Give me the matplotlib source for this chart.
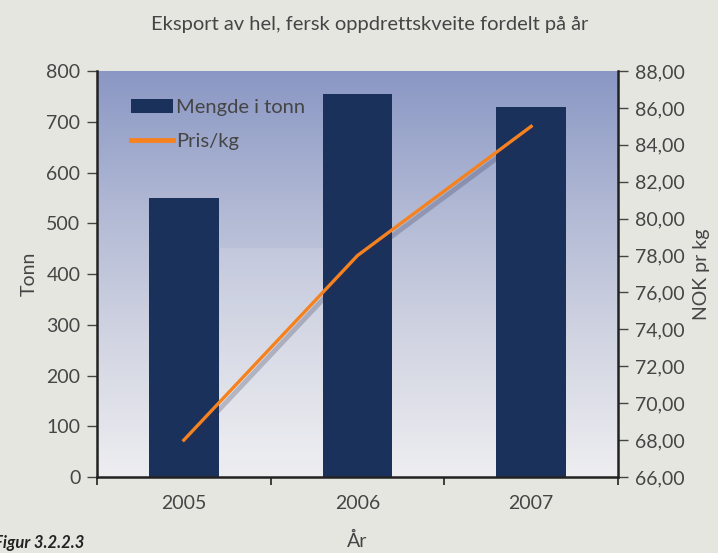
import numpy as np
import matplotlib
matplotlib.use("Agg")
from matplotlib import pyplot as plt
from matplotlib import patheffects as pe
from matplotlib.patches import Rectangle
from matplotlib.lines import Line2D
from matplotlib.colors import LinearSegmentedColormap

# --- data ---
years = ["2005", "2006", "2007"]
mengde = [550, 755, 730]        # tonn
pris = [68.0, 78.0, 85.0]       # NOK pr kg
ticks_left = [0, 100, 200, 300, 400, 500, 600, 700, 800]
ticks_right = [66, 68, 70, 72, 74, 76, 78, 80, 82, 84, 86, 88]

plt.rcParams['font.family'] = ['Lato', 'DejaVu Sans']
txt = '#454545'
bg = '#e6e6e1'
bar_col = '#1a315c'
line_col = '#f5821f'
fs = 14

fig = plt.figure(figsize=(7.18, 5.53), dpi=100, facecolor=bg)
ax = fig.add_axes([0.1351, 0.1374, 0.7256, 0.7342])
ax.set_facecolor('none')

# gradient background of the plot area
grad = LinearSegmentedColormap.from_list('g', ['#eeeef1', '#d2d5e2', '#b0b8d4', '#8a97c4'])
ax.imshow(np.linspace(0, 1, 256).reshape(-1, 1), cmap=grad, origin='lower',
          extent=[0, 1, 0, 1], transform=ax.transAxes, aspect='auto', zorder=0)
ax.add_patch(Rectangle((0.2354, 0.05), 0.198, 0.515, transform=ax.transAxes,
                       facecolor='white', alpha=0.12, edgecolor='white', lw=0.5, zorder=0.5))

x = np.arange(len(years))
bars = ax.bar(x, mengde, width=0.40, color=bar_col, zorder=2, label='Mengde i tonn')
ax.set_xlim(-0.5, 2.5)
ax.set_ylim(0, 800)
ax.set_yticks(ticks_left)
ax.set_xticks([-0.5, 0.5, 1.5, 2.5])
ax.set_xticklabels([])
ax.set_xticks(x, minor=True)
ax.set_xticklabels(years, minor=True)
ax.tick_params(axis='x', which='major', direction='out', length=6, width=1.2, color='#222')
ax.tick_params(axis='x', which='minor', length=0, pad=13, labelsize=fs, labelcolor=txt)
ax.tick_params(axis='y', direction='out', length=7, width=1, color='#444', labelsize=fs,
               labelcolor=txt, pad=5)
for s in ['left', 'bottom']:
    ax.spines[s].set_linewidth(1.8)
    ax.spines[s].set_color('#222')
ax.spines['top'].set_visible(False)
ax.spines['right'].set_visible(False)

ax2 = ax.twinx()
ax2.plot(x, pris, color=line_col, lw=2.4, zorder=3,
         path_effects=[pe.SimpleLineShadow(offset=(2, -3), shadow_color='#303050', alpha=0.25,
                                           linewidth=3.5),
                       pe.Normal()])
ax2.set_ylim(66, 88)
ax2.set_yticks(ticks_right)
ax2.set_yticklabels([f"{v:.2f}".replace('.', ',') for v in ticks_right])
ax2.tick_params(axis='y', direction='out', length=7, width=1, color='#444', labelsize=fs,
                labelcolor=txt, pad=5)
ax2.spines['right'].set_linewidth(1.8)
ax2.spines['right'].set_color('#222')
for s in ['left', 'bottom', 'top']:
    ax2.spines[s].set_visible(False)

ax.set_ylabel('Tonn', fontsize=fs, color=txt, labelpad=6)
ax2.set_ylabel('NOK pr kg', fontsize=fs, color=txt, labelpad=6)
ax.set_xlabel('År', fontsize=fs, color=txt, labelpad=14)

ln_handle = Line2D([], [], color=line_col, lw=3.5)
leg = ax2.legend([bars, ln_handle], ['Mengde i tonn', 'Pris/kg'], loc='upper left',
                 bbox_to_anchor=(0.03, 0.975), frameon=False, fontsize=14.5,
                 handlelength=2.1, handletextpad=0.15, labelspacing=0.8, labelcolor=txt)

fig.text(0.515, 0.955, 'Eksport av hel, fersk oppdrettskveite fordelt på år',
         ha='center', va='center', fontsize=14.5, color=txt)
fig.text(0.118, 0.004, 'Figur 3.2.2.3', ha='right', va='bottom', fontsize=12,
         fontweight='bold', style='italic', color='#222')

fig.savefig('out.png', dpi=100, facecolor=bg)
